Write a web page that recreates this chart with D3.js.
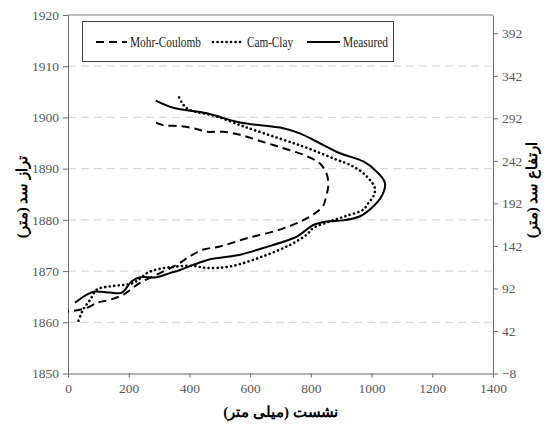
<!DOCTYPE html>
<html lang="fa">
  <head>
    <meta charset="UTF-8">
    <title>Settlement</title>
    <style>
      body { margin: 0; background: #fff; }
      svg, svg text { font-family: "Times New Roman", "Liberation Serif", Tinos, "DejaVu Serif", serif; }
    </style>
  </head>
  <body>
    <div id="chart"></div>
    <script src="https://d3js.org/d3.v7.min.js"></script>
    <script>
      // [settlement (mm), dam level (m)]
      let mohrCoulomb = [
        [290,1899.0],[314,1898.5],[369,1898.3],[413,1897.9],[457,1897.2],[512,1897.2],
        [567,1896.6],[622,1895.6],[698,1894.2],[775,1892.7],[830,1891.0],[853,1888.8],
        [857,1886.5],[850,1884.5],[841,1882.8],[814,1881.3],[770,1879.8],[698,1878.1],
        [589,1876.4],[501,1874.8],[446,1874.2],[402,1872.9],[358,1871.2],[292,1869.3],
        [237,1867.7],[182,1865.4],[138,1864.4],[95,1863.8],[62,1862.8],[0,1862.1]
      ];
      let camClay = [
        [366,1903.9],[375,1902.9],[396,1901.6],[490,1900.2],[567,1898.5],[610,1897.6],
        [676,1896.3],[742,1895.0],[781,1894.2],[874,1892.0],[940,1890.4],[984,1888.5],
        [1011,1886.2],[1006,1884.6],[988,1883.2],[973,1882.0],[918,1880.8],[863,1879.7],
        [808,1878.4],[786,1877.1],[731,1875.1],[643,1872.9],[534,1870.9],[457,1870.6],
        [413,1871.0],[358,1870.9],[270,1869.9],[215,1867.7],[138,1867.0],[95,1866.4],
        [73,1864.4],[50,1862.5],[34,1860.2]
      ];
      let measured = [
        [289,1903.3],[347,1901.9],[457,1900.8],[567,1899.0],[709,1897.9],[764,1896.9],
        [819,1895.3],[896,1893.0],[973,1891.4],[1017,1889.4],[1044,1887.2],[1033,1884.6],
        [1000,1882.3],[962,1880.7],[907,1879.9],[852,1879.7],[808,1879.0],[764,1877.1],
        [742,1876.4],[643,1874.5],[567,1873.2],[468,1872.3],[413,1871.2],[369,1870.2],
        [336,1869.6],[292,1868.8],[237,1868.8],[210,1868.0],[177,1865.8],[138,1865.8],
        [89,1866.0],[62,1865.4],[23,1863.8]
      ];

      let xTicks = [0, 200, 400, 600, 800, 1000, 1200, 1400];
      let yTicks = [1850, 1860, 1870, 1880, 1890, 1900, 1910, 1920];
      let gridTicks = [1860, 1870, 1880, 1890, 1900, 1910];
      let y2Ticks = [-8, 42, 92, 142, 192, 242, 292, 342, 392];
      let seriesNames = ["Mohr-Coulomb", "Cam-Clay", "Measured"];

      let xTitle = "نشست (میلی متر)";
      let yTitle = "تراز سد (متر)";
      let y2Title = "ارتفاع سد (متر)";

      let width = 548;
      let height = 434;
      let margin = { top: 15, right: 55, bottom: 60.5, left: 68 };

      let svg = d3.select("#chart").append("svg")
        .attr("width", width).attr("height", height);

      let x = d3.scaleLinear().domain([0, 1400]).range([margin.left, width - margin.right]);
      let y = d3.scaleLinear().domain([1850, 1920]).range([height - margin.bottom, margin.top]);
      let y2 = d3.scaleLinear().domain([-8, 413.5]).range([height - margin.bottom, margin.top]);

      // grid
      svg.append("g").selectAll("line")
        .data(gridTicks)
        .enter()
        .append("line")
        .attr("x1", x(0)).attr("x2", x(1400))
        .attr("y1", d => y(d)).attr("y2", d => y(d))
        .attr("stroke", "#d9d9d9")
        .attr("stroke-width", 1.2)
        .attr("stroke-dasharray", "8,5");

      // top frame line
      svg.append("line")
        .attr("x1", x(0)).attr("x2", x(1400))
        .attr("y1", y(1920)).attr("y2", y(1920))
        .attr("stroke", "#7f7f7f");

      function styleAxis(g) {
        g.attr("font-family", null);
        g.selectAll("path, line").attr("stroke", "#6b6b6b");
        g.selectAll("text")
          .attr("fill", "#595959")
          .style("font-size", "13.5px");
      }

      svg.append("g")
        .attr("transform", "translate(0," + y(1850) + ")")
        .call(d3.axisBottom(x).tickValues(xTicks).tickFormat(d3.format("d"))
          .tickSize(4).tickSizeOuter(0).tickPadding(6))
        .call(styleAxis);

      svg.append("g")
        .attr("transform", "translate(" + x(0) + ",0)")
        .call(d3.axisLeft(y).tickValues(yTicks).tickFormat(d3.format("d"))
          .tickSize(5).tickSizeOuter(0).tickPadding(4))
        .call(styleAxis);

      svg.append("g")
        .attr("transform", "translate(" + x(1400) + ",0)")
        .call(d3.axisRight(y2).tickValues(y2Ticks).tickFormat(d3.format("d"))
          .tickSize(5).tickSizeOuter(0).tickPadding(4))
        .call(styleAxis);

      // axis titles
      function title(t) {
        return t.attr("text-anchor", "middle")
          .attr("direction", "rtl")
          .style("font-size", "15px")
          .style("font-weight", "bold");
      }

      svg.append("text")
        .attr("x", (x(0) + x(1400)) / 2).attr("y", 417)
        .call(title)
        .text(xTitle);

      svg.append("text")
        .attr("transform", "translate(24,197) rotate(-90)")
        .attr("dominant-baseline", "middle")
        .call(title)
        .text(yTitle);

      svg.append("text")
        .attr("transform", "translate(534,190) rotate(-90)")
        .attr("dominant-baseline", "middle")
        .call(title)
        .text(y2Title);

      // curves
      let line = d3.line()
        .x(d => x(d[0]))
        .y(d => y(d[1]))
        .curve(d3.curveCatmullRom.alpha(0.5));

      let styles = [
        { dash: "8,5", width: 2, cap: "butt" },
        { dash: "0.1,4.4", width: 2.6, cap: "round" },
        { dash: null, width: 2, cap: "butt" }
      ];
      let allSeries = [mohrCoulomb, camClay, measured];

      svg.append("g").selectAll("path")
        .data(allSeries)
        .enter()
        .append("path")
        .attr("d", line)
        .attr("fill", "none")
        .attr("stroke", "#000")
        .attr("stroke-width", (d, i) => styles[i].width)
        .attr("stroke-linecap", (d, i) => styles[i].cap)
        .attr("stroke-dasharray", (d, i) => styles[i].dash);

      // legend
      let legend = svg.append("g");
      legend.append("rect")
        .attr("x", 82.5).attr("y", 21.5)
        .attr("width", 311).attr("height", 40)
        .attr("fill", "#fff")
        .attr("stroke", "#404040");

      let legendX = [96, 213, 307];
      let legendLen = [31, 31, 33];
      let legendTextLen = [71, 46, 45];
      seriesNames.forEach(function(name, i) {
        legend.append("line")
          .attr("x1", legendX[i]).attr("x2", legendX[i] + legendLen[i])
          .attr("y1", 42).attr("y2", 42)
          .attr("stroke", "#000")
          .attr("stroke-width", styles[i].width)
          .attr("stroke-linecap", styles[i].cap)
          .attr("stroke-dasharray", styles[i].dash);
        legend.append("text")
          .attr("x", legendX[i] + legendLen[i] + 3).attr("y", 46.5)
          .attr("fill", "#222")
          .attr("textLength", legendTextLen[i])
          .attr("lengthAdjust", "spacingAndGlyphs")
          .style("font-size", "14px")
          .text(name);
      });
    </script>
  </body>
</html>
